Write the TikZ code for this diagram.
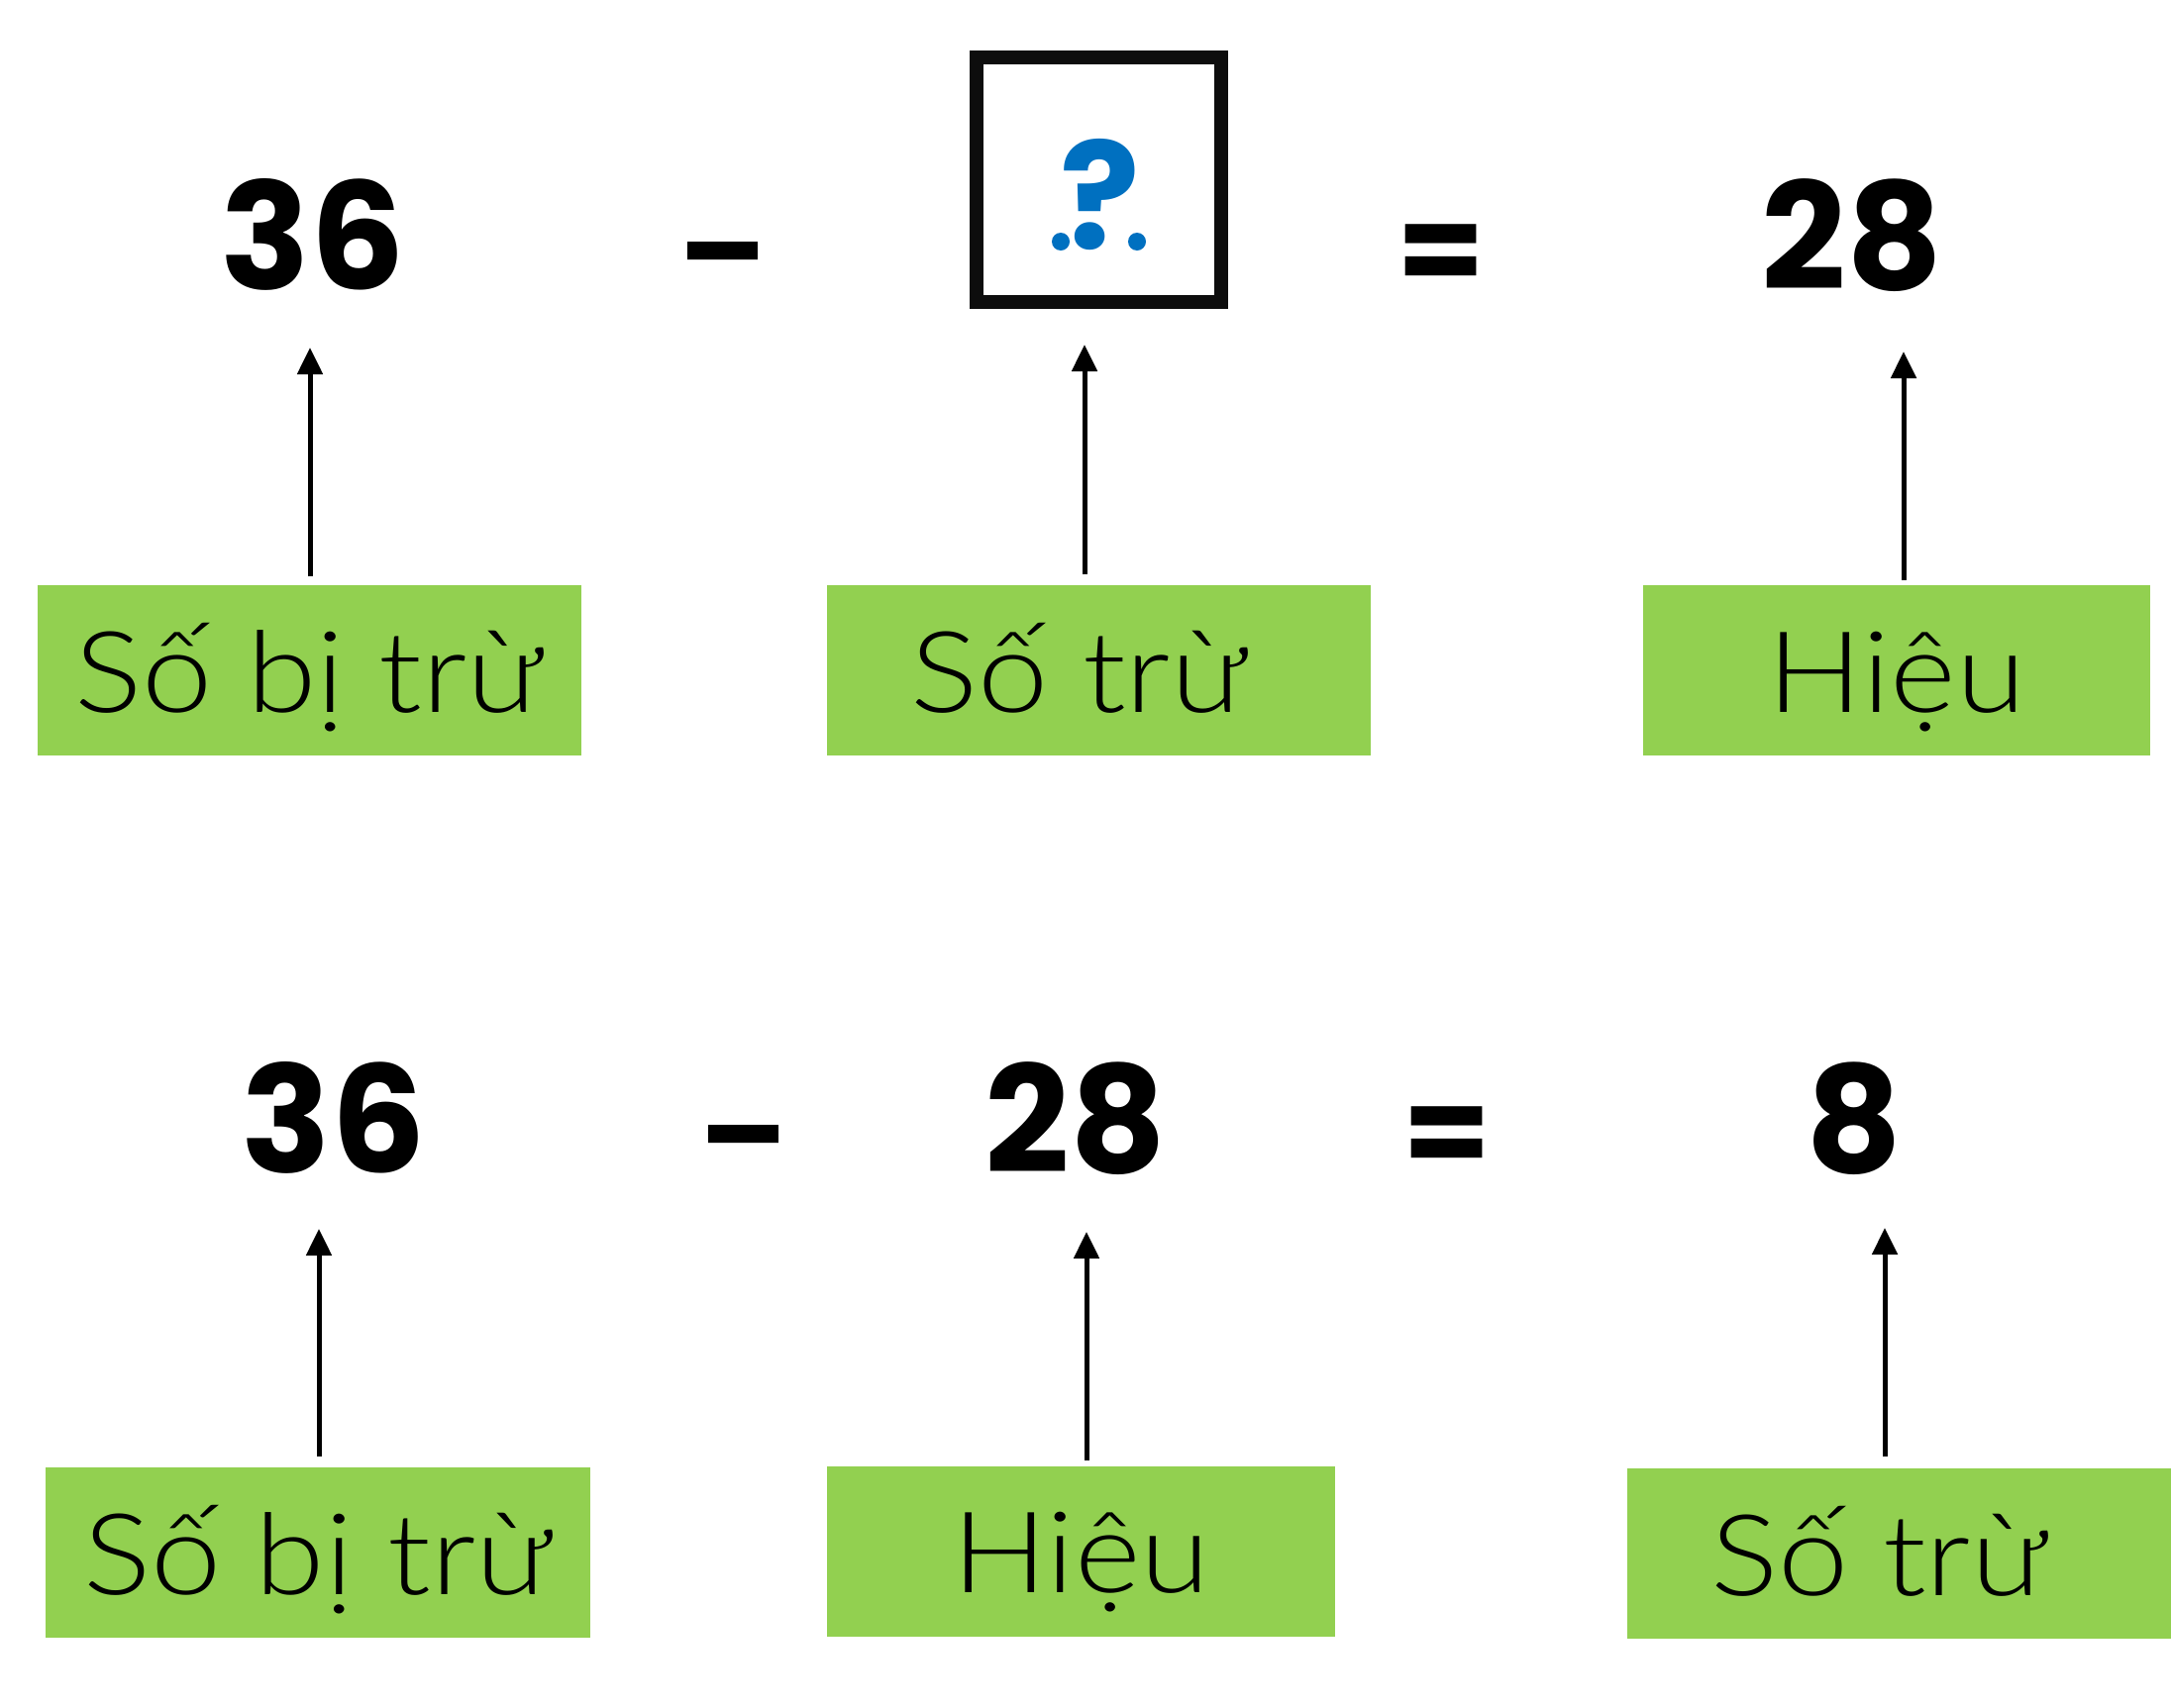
\documentclass[tikz,border=0pt]{standalone}
\usepackage{fontspec}
\usetikzlibrary{arrows.meta}
\newfontfamily\numfont{Poppins}
\newfontfamily\labfont{Lato Light}[FakeStretch=1.12]
\definecolor{labgreen}{HTML}{92D050}
\definecolor{qblue}{HTML}{0070C0}
\definecolor{boxblack}{HTML}{0D0D0D}
\tikzset{
  numtxt/.style={anchor=base, inner sep=0pt, font=\numfont\bfseries\fontsize{150}{150}\selectfont},
  optxt/.style={anchor=center, inner sep=0pt, font=\numfont\bfseries\fontsize{128}{128}\selectfont},
  labbox/.style={fill=labgreen, draw=none, inner sep=0pt, minimum height=172pt,
    text height=84pt, text depth=0pt, font=\labfont\fontsize{114}{114}\selectfont},
  uparrow/.style={line width=5pt, -{Triangle[width=25pt,length=27pt]}},
  qdot/.style={circle, fill=qblue, inner sep=0pt}
}
\begin{document}
\begin{tikzpicture}[x=1pt,y=-1pt]
\useasboundingbox (0,0) rectangle (2192,1724);
\fill[white] (0,0) rectangle (2192,1724);
% top row
\node[numtxt] (n1) at (316,292) {36};
\node[optxt] (m1) at (730,271) {–};
\node[draw=boxblack, line width=14pt, minimum width=247pt, minimum height=247pt, inner sep=0pt] (qbox) at (1109.5,181.5) {};
\node[numtxt, text=qblue] (q) at (1111,251) {?};
\node[qdot, minimum size=18pt] (qd1) at (1071,244) {};
\node[qdot, minimum size=18pt] (qd2) at (1148,244) {};
\node[optxt] (e1) at (1455,262) {=};
\node[numtxt] (n3) at (1870,292) {28};
\node[labbox, minimum width=549pt] (b1) at (312.5,677) {Số bị trừ};
\node[labbox, minimum width=549pt] (b2) at (1109.5,677) {Số trừ\kern40pt};
\node[labbox, minimum width=512pt] (b3) at (1915,677) {Hiệu};
\coordinate (a1s) at (313,582); \coordinate (a1e) at (313,351);
\coordinate (a2s) at (1095,580); \coordinate (a2e) at (1095,348);
\coordinate (a3s) at (1922,586); \coordinate (a3e) at (1922,355);
\draw[uparrow] (a1s) -- (a1e);
\draw[uparrow] (a2s) -- (a2e);
\draw[uparrow] (a3s) -- (a3e);
% bottom row
\node[numtxt] (n4) at (337,1184) {36};
\node[optxt] (m2) at (751,1163) {–};
\node[numtxt] (n5) at (1086,1184) {28};
\node[optxt] (e2) at (1461,1153) {=};
\node[numtxt] (n6) at (1872,1184) {8};
\node[labbox, minimum width=550pt] (b4) at (321,1568) {Số bị trừ};
\node[labbox, minimum width=513pt] (b5) at (1091.5,1566.5) {Hiệu};
\node[labbox, minimum width=549pt] (b6) at (1917.5,1569) {Số trừ\kern40pt};
\coordinate (a4s) at (322,1471); \coordinate (a4e) at (322,1241);
\coordinate (a5s) at (1097,1475); \coordinate (a5e) at (1097,1244);
\coordinate (a6s) at (1903,1471); \coordinate (a6e) at (1903,1240);
\draw[uparrow] (a4s) -- (a4e);
\draw[uparrow] (a5s) -- (a5e);
\draw[uparrow] (a6s) -- (a6e);
\end{tikzpicture}
\end{document}
